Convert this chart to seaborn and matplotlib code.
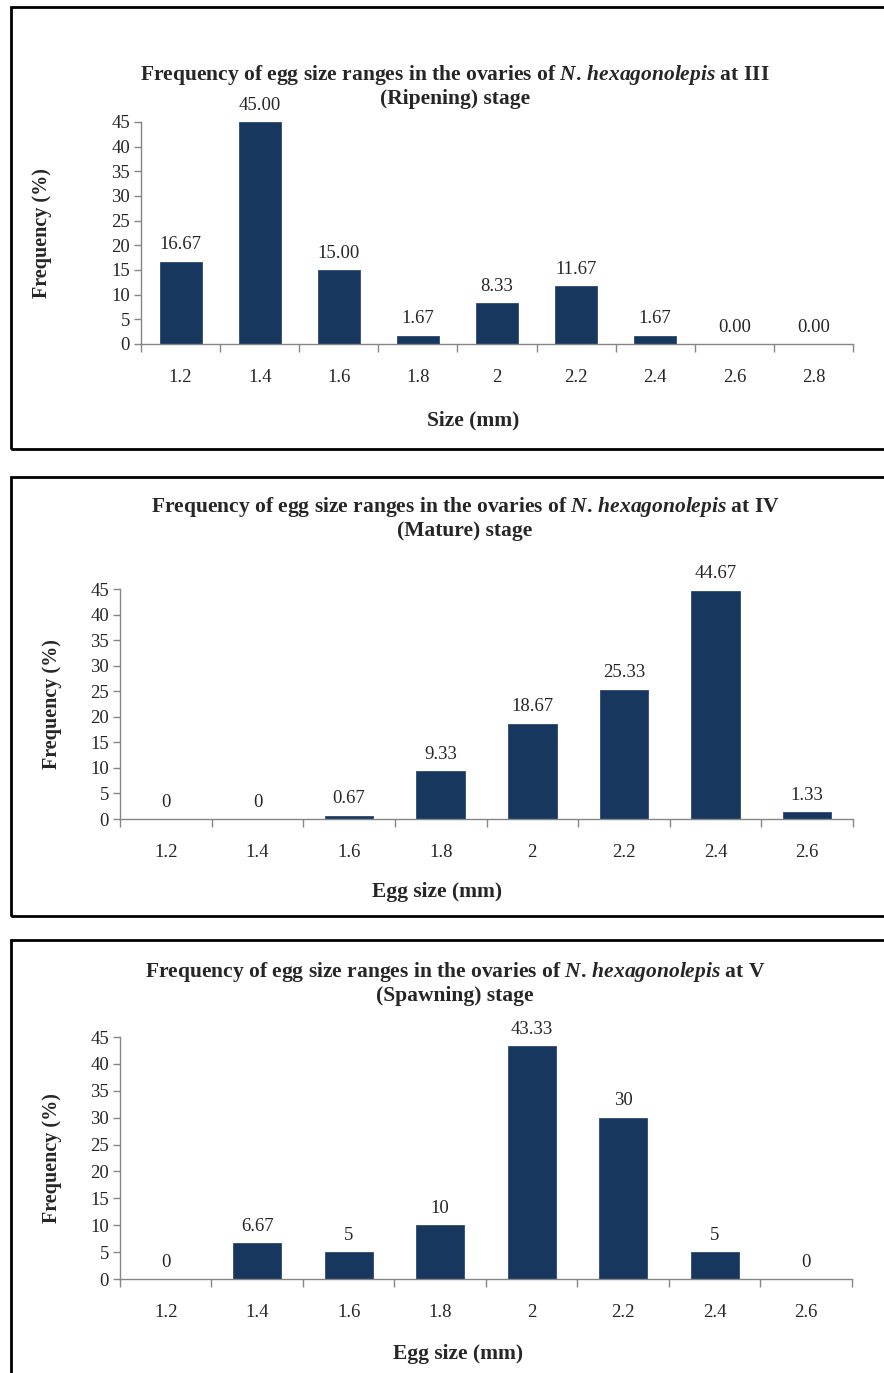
"""
Egg size frequency distributions in the ovaries of N. hexagonolepis
at three maturity stages, drawn as three boxed bar charts.
"""

import matplotlib
matplotlib.use("Agg")
import matplotlib.pyplot as plt
import seaborn as sns
import pandas as pd
from matplotlib.patches import Rectangle

# --- data ------------------------------------------------------------------
sizes_ripening = ["1.2", "1.4", "1.6", "1.8", "2", "2.2", "2.4", "2.6", "2.8"]
freq_ripening = [16.67, 45.00, 15.00, 1.67, 8.33, 11.67, 1.67, 0.00, 0.00]
labels_ripening = ["16.67", "45.00", "15.00", "1.67", "8.33", "11.67", "1.67", "0.00", "0.00"]

sizes_mature = ["1.2", "1.4", "1.6", "1.8", "2", "2.2", "2.4", "2.6"]
freq_mature = [0, 0, 0.67, 9.33, 18.67, 25.33, 44.67, 1.33]
labels_mature = ["0", "0", "0.67", "9.33", "18.67", "25.33", "44.67", "1.33"]

sizes_spawning = ["1.2", "1.4", "1.6", "1.8", "2", "2.2", "2.4", "2.6"]
freq_spawning = [0, 6.67, 5, 10, 43.33, 30, 5, 0]
labels_spawning = ["0", "6.67", "5", "10", "43.33", "30", "5", "0"]

stages = ["III", "IV", "V"]
stage_names = ["Ripening", "Mature", "Spawning"]
xlabels = ["Size (mm)", "Egg size (mm)", "Egg size (mm)"]
yticks = [0, 5, 10, 15, 20, 25, 30, 35, 40, 45]

BAR_COLOR = "#17375E"
SPINE_COLOR = "#868686"
W, H = 884, 1373
NUM_SIZE = 13.5

sns.set_theme(style="white")
plt.rcParams["font.family"] = ["Liberation Serif", "DejaVu Serif"]
plt.rcParams["mathtext.fontset"] = "custom"
plt.rcParams["mathtext.it"] = "Liberation Serif:italic:bold"
plt.rcParams["mathtext.rm"] = "Liberation Serif:bold"

fig = plt.figure(figsize=(W / 100, H / 100), dpi=100)


def fx(px):
    return px / W


def fy(py):
    return 1 - py / H


# panel layout in pixels: box (top, bottom), axes (left, right, top, bottom),
# title centre x / line y's, xlabel pos, ylabel x
panels = [
    dict(box=(7, 449), ax=(141, 853, 122, 344), tx=455, ty=(75, 99),
         xl=(473, 420), yl=42),
    dict(box=(477, 916), ax=(120, 853, 589, 819), tx=465, ty=(507, 531),
         xl=(437, 892), yl=52),
    dict(box=(940, 1380), ax=(120, 852, 1037, 1279), tx=455, ty=(972, 996),
         xl=(458, 1354), yl=52),
]

datasets = [
    (sizes_ripening, freq_ripening, labels_ripening),
    (sizes_mature, freq_mature, labels_mature),
    (sizes_spawning, freq_spawning, labels_spawning),
]

for i, (p, (sizes, freq, labels)) in enumerate(zip(panels, datasets)):
    # outer frame
    top, bottom = p["box"]
    fig.patches.append(Rectangle((fx(11), fy(bottom)), fx(900 - 11), (bottom - top) / H,
                                 transform=fig.transFigure, fill=False,
                                 edgecolor="black", linewidth=2, zorder=0))

    left, right, atop, abot = p["ax"]
    ax = fig.add_axes([fx(left), fy(abot), fx(right - left), (abot - atop) / H])
    df = pd.DataFrame({"size": sizes, "freq": freq})
    sns.barplot(data=df, x="size", y="freq", order=sizes, color=BAR_COLOR,
                saturation=1, width=0.53, edgecolor="#2c4a70", linewidth=0.6, ax=ax)

    ax.bar_label(ax.containers[0], labels=labels, padding=6, fontsize=NUM_SIZE)

    ax.set_ylim(0, 45)
    ax.set_xlim(-0.5, len(sizes) - 0.5)
    ax.set_yticks(yticks)
    # ticks sit between categories, labels at category centres
    ax.set_xticks([k - 0.5 for k in range(len(sizes) + 1)], minor=False)
    ax.set_xticklabels([""] * (len(sizes) + 1))
    ax.set_xticks(range(len(sizes)), minor=True)
    ax.set_xticklabels(sizes, minor=True)
    ax.tick_params(axis="x", which="major", direction="out", length=6,
                   color=SPINE_COLOR, width=1, bottom=True)
    ax.tick_params(axis="x", which="minor", length=0, pad=18, labelsize=NUM_SIZE, bottom=True)
    ax.tick_params(axis="y", direction="out", length=5, color=SPINE_COLOR,
                   width=1, labelsize=NUM_SIZE, pad=3, left=True)
    for s in ["top", "right"]:
        ax.spines[s].set_visible(False)
    for s in ["left", "bottom"]:
        ax.spines[s].set_color(SPINE_COLOR)
        ax.spines[s].set_linewidth(1)
    ax.set_xlabel("")
    ax.set_ylabel("")

    # titles and axis labels
    line1 = ("Frequency of egg size ranges in the ovaries of "
             r"$N.\,hexagonolepis$" + f" at {stages[i]}")
    fig.text(fx(p["tx"]), fy(p["ty"][0]), line1, ha="center", va="center",
             fontsize=15.5, fontweight="bold")
    fig.text(fx(p["tx"]), fy(p["ty"][1]), f"({stage_names[i]}) stage",
             ha="center", va="center", fontsize=15.5, fontweight="bold")
    fig.text(fx(p["xl"][0]), fy(p["xl"][1]), xlabels[i], ha="center", va="center",
             fontsize=15.5, fontweight="bold")
    fig.text(fx(p["yl"]), fy((atop + abot) / 2), "Frequency (%)", rotation=90,
             ha="center", va="center", fontsize=14.5, fontweight="bold")

fig.savefig("out.png", dpi=100)
